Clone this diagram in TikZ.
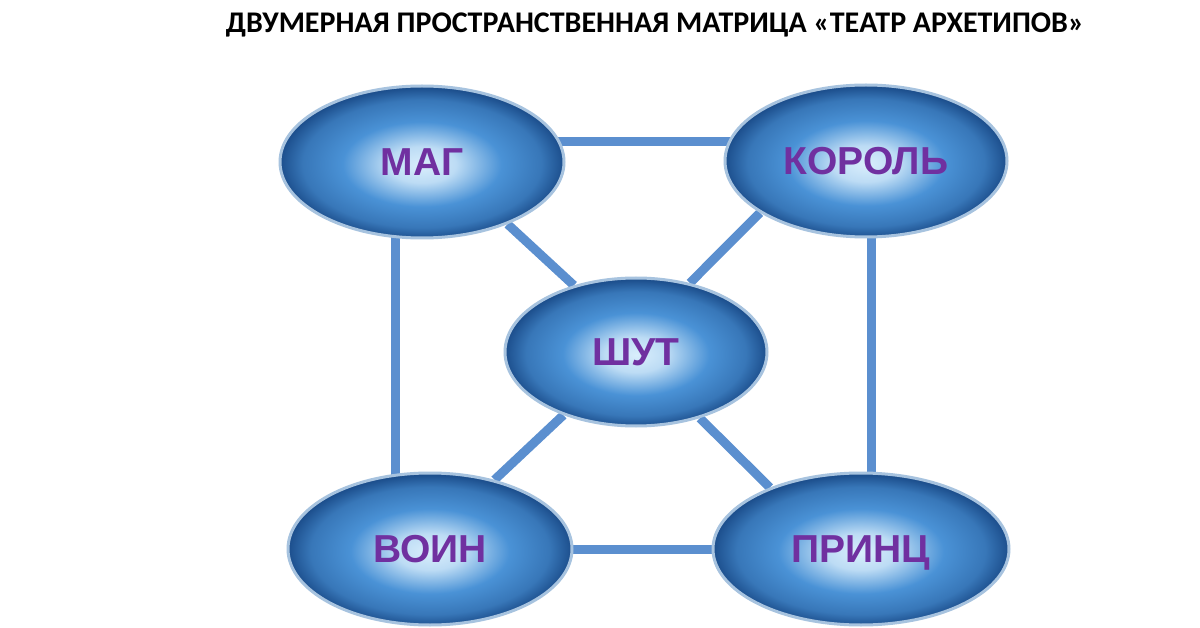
\documentclass[tikz,border=0pt]{standalone}
\usepackage{fontspec}
\usetikzlibrary{shapes.geometric,backgrounds}
\newfontfamily\titlefont{Carlito}
\newfontfamily\archfont{Liberation Sans}
\definecolor{archlight}{HTML}{D9EEFC}
\definecolor{archmid}{HTML}{4A92D6}
\definecolor{archdark}{HTML}{1C4E8C}
\definecolor{archrim}{HTML}{A7C3DF}
\definecolor{archtext}{HTML}{7030A0}
\definecolor{linkblue}{HTML}{5B8FCF}
\pgfdeclareradialshading{archshade}{\pgfpoint{0bp}{-1bp}}{%
  color(0bp)=(archlight); color(6bp)=(archlight!80!archmid);
  color(14bp)=(archmid); color(21bp)=(archmid!60!archdark);
  color(25bp)=(archdark); color(50bp)=(archdark)}
\tikzset{
  archetype/.style={ellipse, draw=archrim, line width=3pt, shading=archshade,
    minimum width=#1, minimum height=152pt, inner sep=0pt, text depth=0pt,
    font=\archfont\bfseries\fontsize{39}{44}\selectfont, text=archtext},
  archetype/.default=284pt,
  link/.style={draw=linkblue, line width=9pt}
}
\begin{document}
\begin{tikzpicture}[x=1pt,y=-1pt]
\useasboundingbox (0,0) rectangle (1200,628);
\node [font=\titlefont\bfseries\fontsize{30}{35}\selectfont] (title) at (655,25)
  {ДВУМЕРНАЯ ПРОСТРАНСТВЕННАЯ МАТРИЦА «ТЕАТР АРХЕТИПОВ»}; % title
\node [archetype] (mag) at (422,162) {МАГ};
\node [archetype=282pt] (korol) at (866,161) {КОРОЛЬ};
\node [archetype=262pt, minimum height=148pt] (shut) at (636,352) {ШУТ};
\node [archetype] (voin) at (430,549) {ВОИН};
\node [archetype=296pt] (princ) at (861,549) {ПРИНЦ};
\begin{pgfonlayer}{background}
\fill [white] (0,0) rectangle (1200,628); % page
\draw [link] ([yshift=20pt]mag.center) -- ([yshift=20pt]mag.center -| korol.center); % top
\draw [link] ([xshift=-27pt]mag.center) -- ([xshift=-27pt]mag.center |- voin.center); % left
\draw [link] ([xshift=5pt]korol.center) -- ([xshift=5pt]korol.center |- princ.center); % right
\draw [link] (voin.center) -- (princ.center); % bottom
\draw [link] (mag.-36) -- (shut.133);
\draw [link] (korol.206) -- (shut.52);
\draw [link] (shut.221) -- (voin.47);
\draw [link] (shut.-46) -- (princ.146);
\end{pgfonlayer}
\end{tikzpicture}
\end{document}
